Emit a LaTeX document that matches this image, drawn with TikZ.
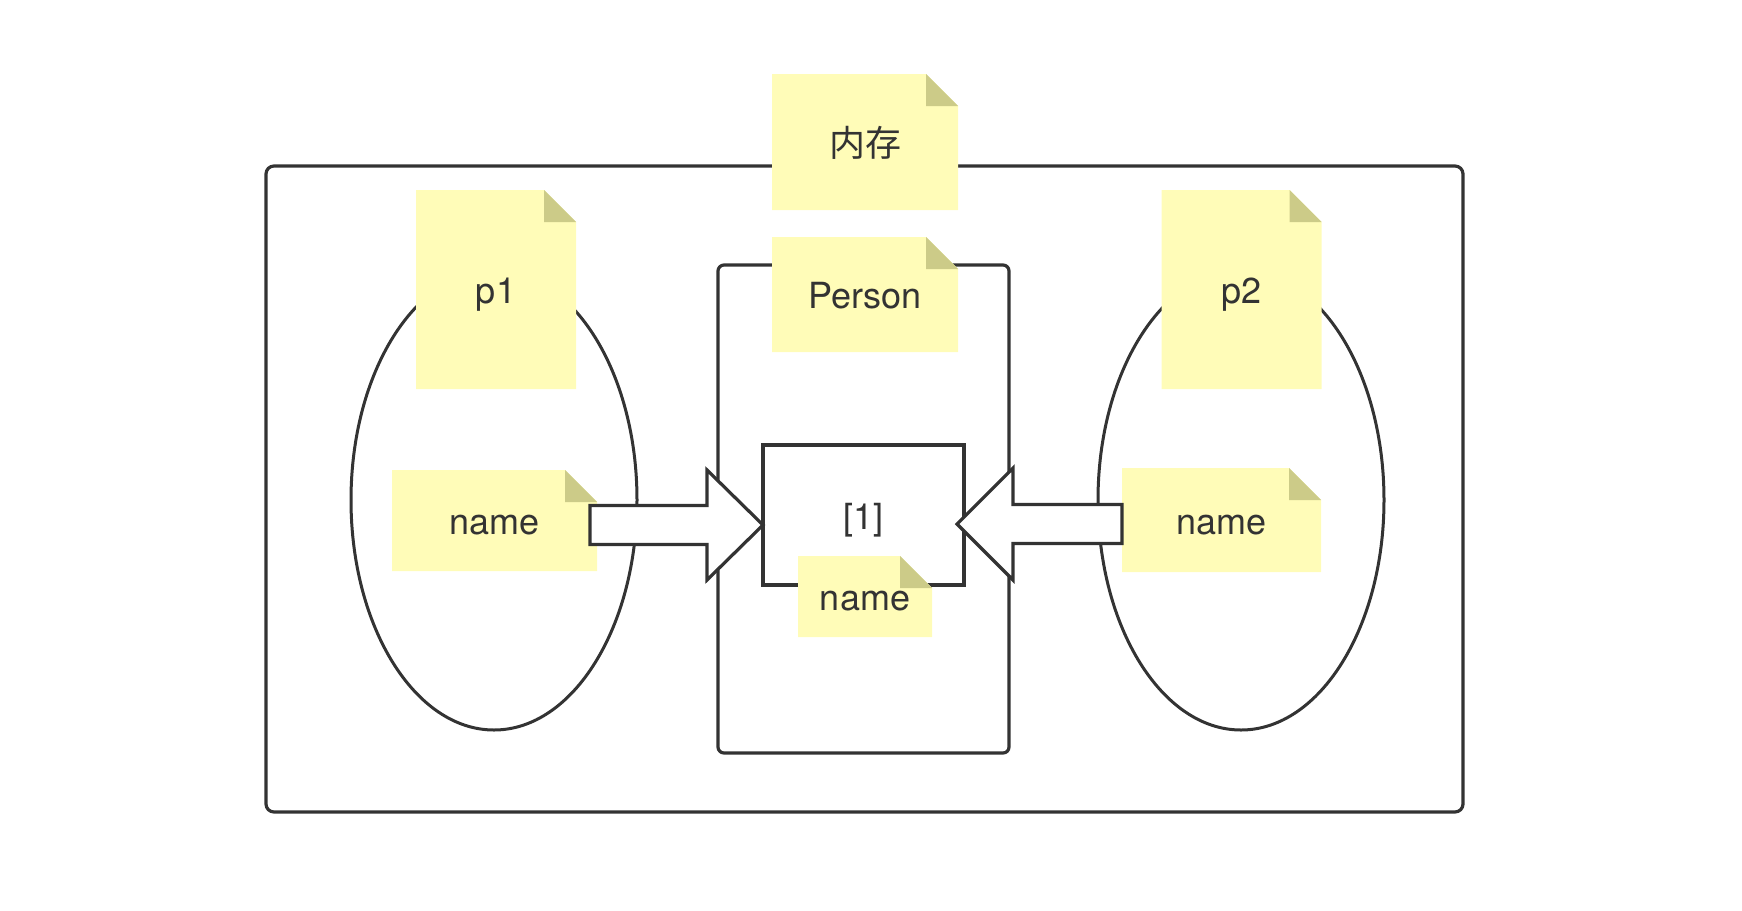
\documentclass[tikz,border=0pt]{standalone}
\usepackage{fontspec}
\setmainfont{TeX Gyre Heros}
\newfontfamily\cjk{Noto Sans CJK SC}
\usetikzlibrary{calc,shapes.geometric}
\definecolor{notey}{RGB}{255,252,184}
\definecolor{foldc}{RGB}{204,203,136}
\definecolor{linec}{RGB}{51,51,51}
\definecolor{txt}{RGB}{51,51,51}
\begin{document}
\begin{tikzpicture}[x=1pt,y=-1pt,
  every node/.style={inner sep=0pt,outer sep=0pt},
  frame/.style={draw=linec,line width=3.2pt,minimum width=#1},
  note/.style={rectangle,fill=none,draw=none,text=txt,
    font=\fontsize{36}{40}\selectfont,text height=28pt,text depth=0pt,
    path picture={
      \fill[notey] (path picture bounding box.south west) -- (path picture bounding box.north west)
        -- ([xshift=-32pt]path picture bounding box.north east)
        -- ([yshift=-32pt]path picture bounding box.north east)
        -- (path picture bounding box.south east) -- cycle;
      \fill[foldc] ([xshift=-32pt]path picture bounding box.north east) -- ++(0,32) -- ++(32,0) -- cycle;
    }},
  blockarrow/.style={draw=linec,fill=white,line width=3.2pt,line join=miter},
  oval/.style={ellipse,draw=linec,line width=3pt}
]
\useasboundingbox (0,0) rectangle (1742,910);
% frames
\node[frame=1197pt,minimum height=646pt,rounded corners=8pt] (mem) at (864.5,489) {};
\node[oval,minimum width=286pt,minimum height=460pt] (e1) at (494,500) {};
\node[oval,minimum width=286pt,minimum height=460pt] (e2) at (1241,500) {};
\node[frame=291pt,minimum height=488pt,rounded corners=6pt] (cls) at (863.5,509) {};
\node[frame=201pt,minimum height=140pt,text=txt,font=\fontsize{36}{40}\selectfont,text height=28pt,text depth=0pt] (box) at (863.5,515) {[1]};
% notes
\node[note,minimum width=186pt,minimum height=136pt] (memnote) at (865,142) {\cjk 内存};
\node[note,minimum width=160pt,minimum height=199pt] (p1) at (496,289.5) {p1};
\node[note,minimum width=160pt,minimum height=199pt] (p2) at (1241.5,289.5) {p2};
\node[note,minimum width=186pt,minimum height=115pt] (pnote) at (865,294.5) {Person};
\node[note,minimum width=205pt,minimum height=101pt] (lname) at (494.5,520.5) {name};
\node[note,minimum width=199pt,minimum height=104pt] (rname) at (1221.5,520) {name};
\node[note,minimum width=134pt,minimum height=81pt] (iname) at (865,596.5) {name};
% arrows
\coordinate (tipL) at ([yshift=-10pt]box.west);
\coordinate (tailL) at ([xshift=-7pt]lname.east |- tipL);
\coordinate (tipR) at ([xshift=-7pt,yshift=-9pt]box.east);
\coordinate (tailR) at (rname.west |- tipR);
\draw[blockarrow] ($(tailL)+(0,-19.5)$) -- ($(tipL)+(-56,-19.5)$) -- ($(tipL)+(-56,-55)$) -- (tipL)
  -- ($(tipL)+(-56,55)$) -- ($(tipL)+(-56,19.5)$) -- ($(tailL)+(0,19.5)$) -- cycle;
\draw[blockarrow] ($(tailR)+(0,-19.5)$) -- ($(tipR)+(56,-19.5)$) -- ($(tipR)+(56,-56)$) -- (tipR)
  -- ($(tipR)+(56,56)$) -- ($(tipR)+(56,19.5)$) -- ($(tailR)+(0,19.5)$) -- cycle;
\end{tikzpicture}
\end{document}
